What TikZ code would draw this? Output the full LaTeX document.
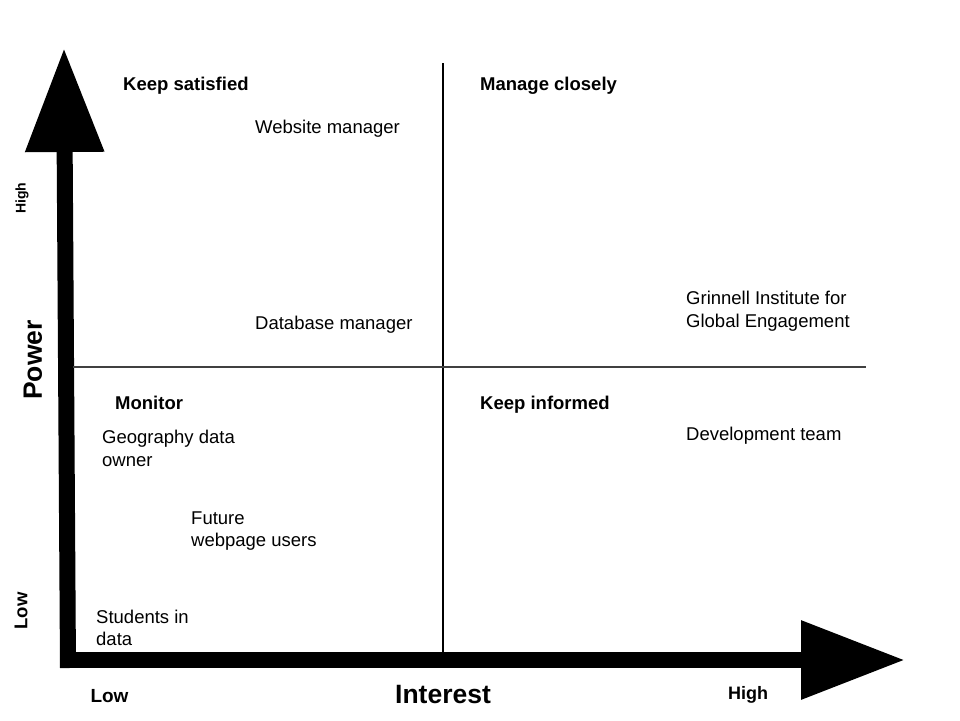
\documentclass[tikz,border=0pt]{standalone}
\usepackage{fontspec}
\setmainfont{Liberation Sans}
\usepackage{tikz}
\usetikzlibrary{arrows.meta,positioning,calc}

\begin{document}
\begin{tikzpicture}[x=1pt, y=-1pt,
    axis/.style={line width=16pt, -{Triangle[length=104pt,width=75pt]}},
    divider/.style={line width=1.2pt},
    label/.style={anchor=base west, inner sep=0pt, align=left, font=\fontsize{18.5}{22.5}\selectfont},
    quadrant/.style={label, font=\fontsize{18.5}{22.5}\selectfont\bfseries},
    axistitle/.style={inner sep=0pt, font=\fontsize{26.5}{30}\selectfont\bfseries}]
    \useasboundingbox (0,0) rectangle (960,720);

    % Axes
    \coordinate (origin) at (68,660);
    \coordinate (ybase) at (68,668);
    \coordinate (ytip) at (64,48);
    \coordinate (xtip) at (905,660);
    \draw[axis, line cap=rect] (origin) -- (xtip);
    \draw[axis] (ybase) -- (ytip);

    % Quadrant dividers
    \coordinate (vtop) at (443,63);
    \coordinate (vbot) at (443,668);
    \coordinate (hleft) at (73,367);
    \coordinate (hright) at (866,367);
    \draw[divider] (vtop) -- (vbot);
    \draw[divider, black!75] (hleft) -- (hright);

    % Quadrant titles
    \node[quadrant] (keepsat) at (123,90) {Keep satisfied};
    \node[quadrant] (manage) at (480,90) {Manage closely};
    \node[quadrant] (monitor) at (115,409) {Monitor};
    \node[quadrant] (keepinf) at (480,409) {Keep informed};

    % Stakeholders (two-line ones sit on their last line)
    \node[label] (website) at (255,133) {Website manager};
    \node[label] (database) at (255,329.5) {Database manager};
    \node[label] (grinnell) at (686,327) {Grinnell Institute for\\Global Engagement};
    \node[label] (devteam) at (686,440.5) {Development team};
    \node[label] (geodata) at (102,466) {Geography data\\owner};
    \node[label] (future) at (191,546.5) {Future\\webpage users};
    \node[label] (students) at (96,645.5) {Students in\\data};

    % Axis labels
    \node[axistitle] (interest) at (443,695) {Interest};
    \node[axistitle, rotate=90] (power) at (33,360) {Power};
    \node[inner sep=0pt, font=\fontsize{19}{22}\selectfont\bfseries] (xlow) at (109.5,696) {Low};
    \node[inner sep=0pt, font=\fontsize{18}{22}\selectfont\bfseries] (xhigh) at (748,695) {High};
    \node[inner sep=0pt, rotate=90, font=\fontsize{14}{16}\selectfont\bfseries] (yhigh) at (22,198) {High};
    \node[inner sep=0pt, rotate=90, font=\fontsize{18.5}{22}\selectfont\bfseries] (ylow) at (21,611) {Low};
\end{tikzpicture}
\end{document}
